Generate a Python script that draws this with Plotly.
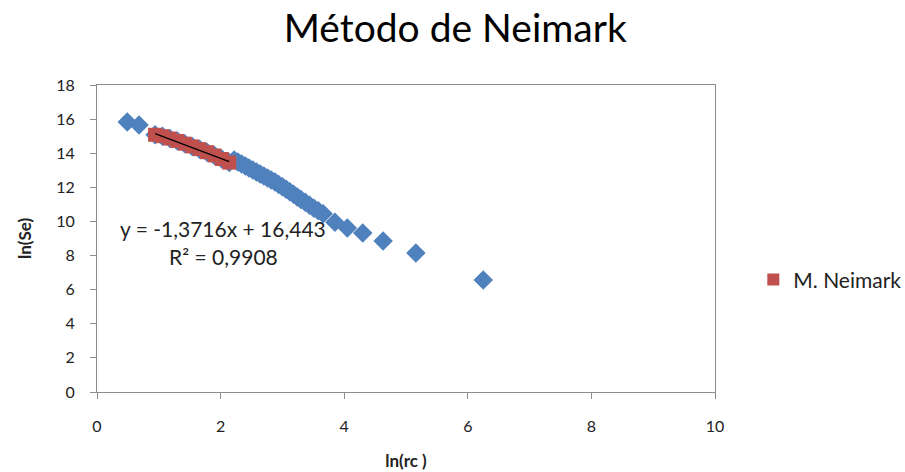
import plotly.graph_objects as go

# Blue series (all data, ln(rc) vs ln(Se))
blue_x = [0.49, 0.68, 0.94, 1.06, 1.18, 1.30, 1.42, 1.54, 1.66, 1.78, 1.90, 2.02, 2.14,
          2.22, 2.28, 2.34, 2.40, 2.46, 2.52, 2.58, 2.64, 2.70, 2.76, 2.82, 2.88, 2.94,
          3.00, 3.06, 3.12, 3.18, 3.24, 3.30, 3.37, 3.44, 3.51, 3.58, 3.66,
          3.85, 4.05, 4.30, 4.63, 5.16, 6.25]
blue_y = [15.83, 15.65, 15.08, 15.00, 14.86, 14.72, 14.56, 14.40, 14.24, 14.06, 13.87, 13.66, 13.45,
          13.60, 13.48, 13.37, 13.25, 13.13, 13.02, 12.90, 12.78, 12.67, 12.55, 12.43, 12.31, 12.17,
          12.03, 11.89, 11.74, 11.59, 11.44, 11.29, 11.12, 10.95, 10.78, 10.62, 10.45,
          9.96, 9.61, 9.32, 8.85, 8.15, 6.57]

# Red series: M. Neimark (linear portion)
red_x = [0.94, 1.06, 1.18, 1.30, 1.42, 1.54, 1.66, 1.78, 1.90, 2.02, 2.14]
red_y = [15.08, 15.00, 14.86, 14.72, 14.56, 14.40, 14.24, 14.06, 13.87, 13.66, 13.45]

# Trendline coefficients (as displayed)
slope = -1.3716
intercept = 16.443
r2 = 0.9908

x_ticks = [0, 2, 4, 6, 8, 10]
y_ticks = [0, 2, 4, 6, 8, 10, 12, 14, 16, 18]

FONT = "Lato, Open Sans, sans-serif"

fig = go.Figure()
fig.add_trace(go.Scatter(
    x=blue_x, y=blue_y, mode="markers", showlegend=False,
    marker=dict(symbol="diamond", size=15, color="#4F81BD"),
))
fig.add_trace(go.Scatter(
    x=red_x, y=red_y, mode="markers", name="M. Neimark",
    marker=dict(symbol="square", size=14, color="#C0504D"),
))
tx = [min(red_x), max(red_x)]
fig.add_trace(go.Scatter(
    x=tx, y=[slope * v + intercept for v in tx], mode="lines", showlegend=False,
    line=dict(color="black", width=1.3),
))

def fmt(v, d):
    return f"{v:.{d}f}".replace(".", ",")

eq = f"y = {fmt(slope, 4)}x + {fmt(intercept, 3)}"
fig.add_annotation(x=2.04, y=9.61, xref="x", yref="y", text=eq, showarrow=False,
                   font=dict(family=FONT, size=21, color="#222"))
fig.add_annotation(x=2.05, y=7.97, xref="x", yref="y", text=f"R² = {fmt(r2, 4)}",
                   showarrow=False, font=dict(family=FONT, size=21, color="#222"))

axis_common = dict(showgrid=False, zeroline=False, showline=True, linecolor="#8c8c8c",
                   linewidth=1, mirror=True, ticks="outside", ticklen=6, tickcolor="#8c8c8c",
                   automargin=False,
                   tickfont=dict(family=FONT, size=16, color="#222"))

fig.update_layout(
    width=905, height=472,
    margin=dict(l=97, r=190, t=85, b=80, autoexpand=False),
    paper_bgcolor="white", plot_bgcolor="white",
    title=dict(text="Método de Neimark", x=0.503, xanchor="center", y=0.94, yanchor="middle",
               font=dict(family=FONT, size=39, color="black"), automargin=False),
    xaxis=dict(range=[0, 10], tickvals=x_ticks, ticklabelstandoff=14, **axis_common,
               title=dict(text="<b>ln(rc )</b>", font=dict(family=FONT, size=17, color="#222"), standoff=20)),
    yaxis=dict(range=[0, 18], tickvals=y_ticks, ticklabelstandoff=12, **axis_common,
               title=dict(text="<b>ln(Se)</b>", font=dict(family=FONT, size=17, color="#222"), standoff=20)),
    legend=dict(x=1.062, y=0.365, xanchor="left", yanchor="middle",
                font=dict(family=FONT, size=21, color="#222"), itemsizing="constant"),
)

fig.write_html("out.html")
